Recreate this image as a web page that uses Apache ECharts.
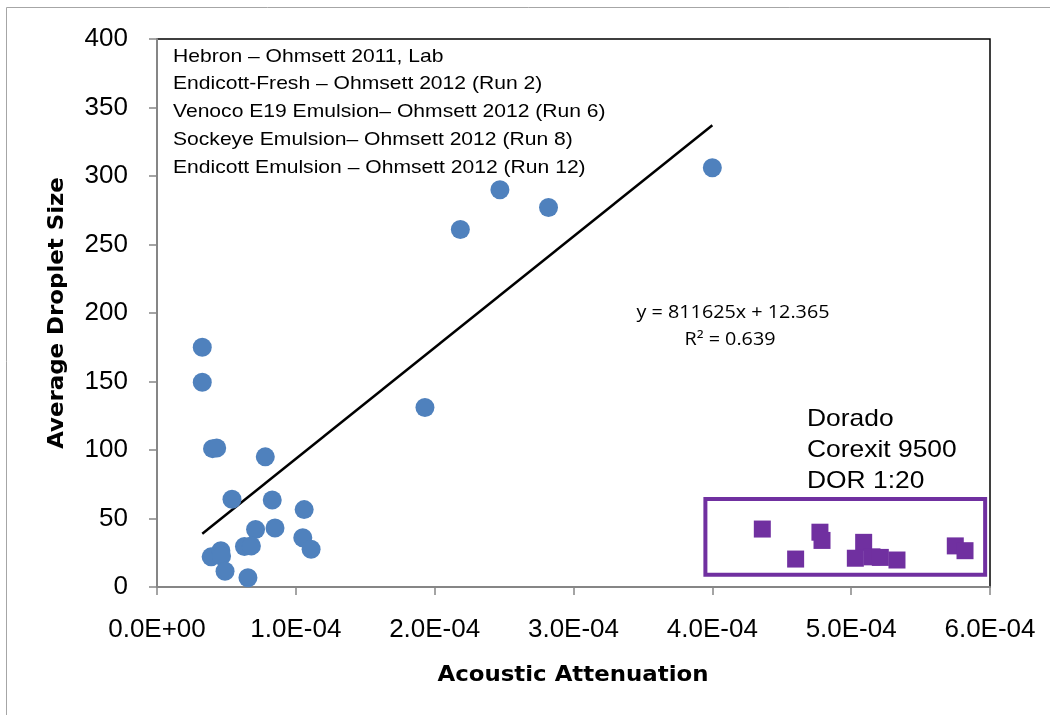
<!DOCTYPE html>
<html>
<head>
<meta charset="utf-8">
<title>Average Droplet Size vs Acoustic Attenuation</title>
<script src="https://cdn.jsdelivr.net/npm/echarts@6/dist/echarts.min.js"></script>
<style>
  html, body { margin: 0; padding: 0; background: #fff; }
  #chart { width: 1050px; height: 715px; }
</style>
</head>
<body>
<div id="chart"></div>
<script>
// Ohmsett / lab runs (blue circles): acoustic attenuation vs average droplet size
const blueX = [0.326e-4, 0.326e-4, 0.40e-4, 0.43e-4, 0.78e-4, 0.54e-4, 0.83e-4, 1.06e-4,
               0.71e-4, 0.85e-4, 1.05e-4, 1.11e-4, 0.63e-4, 0.68e-4, 0.39e-4, 0.46e-4,
               0.465e-4, 0.49e-4, 0.655e-4, 1.93e-4, 2.185e-4, 2.47e-4, 2.82e-4, 4.0e-4];
const blueY = [175, 149.5, 101, 101.5, 95, 64, 63.5, 56.5,
               42, 43, 36, 27.5, 29.5, 30, 22, 26.5,
               22.6, 11.5, 6.8, 131, 261, 290, 277, 306];

// Dorado, Corexit 9500, DOR 1:20 (purple squares)
const purpleX = [4.36e-4, 4.60e-4, 4.775e-4, 4.79e-4, 5.09e-4, 5.03e-4, 5.15e-4, 5.21e-4, 5.33e-4, 5.75e-4, 5.82e-4];
const purpleY = [42.3, 20.4, 40, 34, 32.6, 21, 22, 21.6, 19.7, 30, 26.5];

// Linear fit of the blue series
const fitSlope = 811625;
const fitIntercept = 12.365;
const fitR2 = 0.639;

const yTicks = [0, 50, 100, 150, 200, 250, 300, 350, 400];
const xTicks = [0, 1e-4, 2e-4, 3e-4, 4e-4, 5e-4, 6e-4];

const noteLines = [
  'Hebron \u2013 Ohmsett 2011, Lab',
  'Endicott-Fresh \u2013 Ohmsett 2012 (Run 2)',
  'Venoco E19 Emulsion\u2013 Ohmsett 2012 (Run 6)',
  'Sockeye Emulsion\u2013 Ohmsett 2012 (Run 8)',
  'Endicott Emulsion \u2013 Ohmsett 2012 (Run 12)'
];
const doradoLines = ['Dorado', 'Corexit 9500', 'DOR 1:20'];

function sci(v) {
  if (Math.abs(v) < 1e-12) return '0.0E+00';
  const parts = v.toExponential(1).split('e');
  const e = parseInt(parts[1], 10);
  const sign = e < 0 ? '-' : '+';
  const mag = String(Math.abs(e)).padStart(2, '0');
  return parts[0] + 'E' + sign + mag;
}

const blueData = blueX.map((x, i) => [x, blueY[i]]);
const purpleData = purpleX.map((x, i) => [x, purpleY[i]]);
const fitXs = [Math.min.apply(null, blueX), Math.max.apply(null, blueX)];
const fitData = fitXs.map(x => [x, fitSlope * x + fitIntercept]);

const chart = echarts.init(document.getElementById('chart'), null, { renderer: 'canvas' });

const graphics = [
  { type: 'rect', shape: { x: 6.5, y: 7.5, width: 1100, height: 800 },
    style: { fill: 'none', stroke: '#a6a6a6', lineWidth: 1 }, z: -10, silent: true }
];
noteLines.forEach((t, i) => {
  graphics.push({
    type: 'text', x: 173, y: 56.5 + i * 27.8, scaleX: 1.14,
    style: { text: t, font: '18.5px "Liberation Sans", Arial, sans-serif', fill: '#000',
             textAlign: 'left', textVerticalAlign: 'middle' }
  });
});
doradoLines.forEach((t, i) => {
  graphics.push({
    type: 'text', x: 807, y: 419 + i * 31, scaleX: 1.1,
    style: { text: t, font: '24px "Liberation Sans", Arial, sans-serif', fill: '#000',
             textAlign: 'left', textVerticalAlign: 'middle' }
  });
});
// Fit equation and R², centred on a common axis
graphics.push({
  type: 'text', x: 733, y: 313, scaleX: 1.13,
  style: { text: 'y = ' + fitSlope + 'x + ' + fitIntercept, font: '17.5px "Open Sans", sans-serif',
           fill: '#000', textAlign: 'center', textVerticalAlign: 'middle' }
});
graphics.push({
  type: 'text', x: 730, y: 340, scaleX: 1.13,
  style: { text: 'R\u00B2 = ' + fitR2, font: '17.5px "Open Sans", sans-serif',
           fill: '#000', textAlign: 'center', textVerticalAlign: 'middle' }
});
// Axis titles
graphics.push({
  type: 'text', x: 573, y: 675, scaleX: 1.04,
  style: { text: 'Acoustic Attenuation', font: 'bold 22px "DejaVu Sans", sans-serif',
           fill: '#000', textAlign: 'center', textVerticalAlign: 'middle' }
});
graphics.push({
  type: 'text', x: 57, y: 313, rotation: Math.PI / 2, scaleX: 1.04,
  style: { text: 'Average Droplet Size', font: 'bold 22px "DejaVu Sans", sans-serif',
           fill: '#000', textAlign: 'center', textVerticalAlign: 'middle' }
});

chart.setOption({
  animation: false,
  backgroundColor: '#fff',
  grid: { left: 157, top: 39, right: 60, bottom: 128, show: true,
          borderColor: '#000', borderWidth: 1.5, backgroundColor: 'transparent' },
  xAxis: {
    type: 'value', min: xTicks[0], max: xTicks[xTicks.length - 1], interval: 1e-4,
    axisLine: { show: true, onZero: false, lineStyle: { color: '#868686', width: 2 } },
    axisTick: { show: true, length: 8, inside: false, lineStyle: { color: '#868686', width: 1.5 } },
    splitLine: { show: false },
    axisLabel: { formatter: sci, color: '#000', fontSize: 26, margin: 30,
                 fontFamily: '"Liberation Sans", Arial, sans-serif' }
  },
  yAxis: {
    type: 'value', min: yTicks[0], max: yTicks[yTicks.length - 1], interval: 50,
    axisLine: { show: true, onZero: false, lineStyle: { color: '#868686', width: 2 } },
    axisTick: { show: true, length: 8, inside: false, lineStyle: { color: '#868686', width: 1.5 } },
    splitLine: { show: false },
    axisLabel: { color: '#000', fontSize: 26, margin: 29,
                 fontFamily: '"Liberation Sans", Arial, sans-serif' }
  },
  series: [
    {
      name: 'Linear fit', type: 'line', data: fitData, symbol: 'none',
      lineStyle: { color: '#000', width: 2.5 }, z: 3, silent: true
    },
    {
      name: 'Ohmsett runs', type: 'scatter', data: blueData, symbol: 'circle', symbolSize: 19,
      itemStyle: { color: '#4F81BD', opacity: 1 }, z: 4
    },
    {
      name: 'Dorado', type: 'scatter', data: purpleData, symbol: 'rect', symbolSize: 17,
      itemStyle: { color: '#7030A0', opacity: 1 }, z: 4,
      markArea: {
        silent: true,
        itemStyle: { color: 'rgba(0,0,0,0)', borderColor: '#7030A0', borderWidth: 4 },
        data: [[{ coord: [3.95e-4, 64.2] }, { coord: [5.965e-4, 9.0] }]]
      }
    }
  ],
  graphic: graphics
});
</script>
</body>
</html>
